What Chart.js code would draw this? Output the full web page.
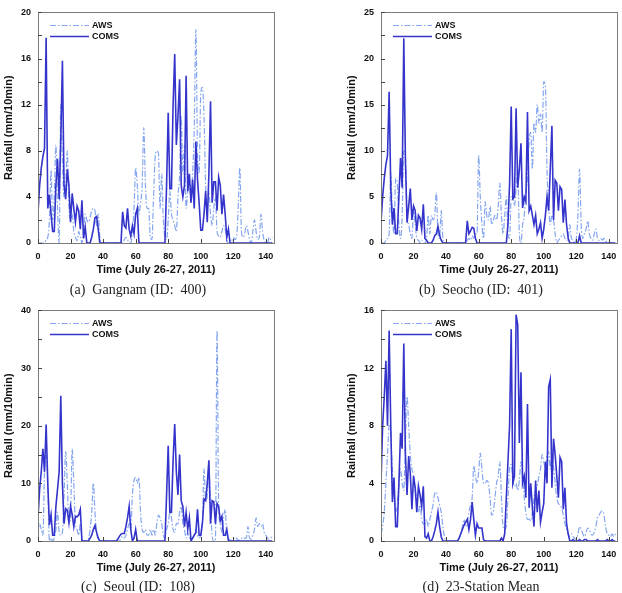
<!DOCTYPE html>
<html><head><meta charset="utf-8">
<script src="https://cdn.jsdelivr.net/npm/chart.js@4.4.1/dist/chart.umd.min.js"></script>
<style>
html,body{margin:0;padding:0;background:#fff;}
body{width:622px;height:593px;position:relative;overflow:hidden;}
.panel{position:absolute;width:300px;height:285px;}
.cap{position:absolute;font-family:"Liberation Serif","DejaVu Serif",serif;font-size:14px;line-height:16px;color:#222;white-space:pre;transform:translateX(-50%);}
</style></head><body>
<div class="panel" style="left:0px;top:0px"><canvas id="ca" width="300" height="285"></canvas></div>
<div class="panel" style="left:343px;top:0px"><canvas id="cb" width="300" height="285"></canvas></div>
<div class="panel" style="left:0px;top:298px"><canvas id="cc" width="300" height="285"></canvas></div>
<div class="panel" style="left:343px;top:298px"><canvas id="cd" width="300" height="285"></canvas></div>
<div class="cap" style="left:138px;top:282px">(a)  Gangnam (ID:  400)</div>
<div class="cap" style="left:481px;top:282px">(b)  Seocho (ID:  401)</div>
<div class="cap" style="left:138px;top:579px">(c)  Seoul (ID:  108)</div>
<div class="cap" style="left:481px;top:579px">(d)  23-Station Mean</div>
<script>
// ---- data (10-minute steps, July 26-27, 2011) ----
const times = Array.from({length:145}, (_, i) => i);
const xTicks = [0, 20, 40, 60, 80, 100, 120, 140];
const seriesNames = ['AWS', 'COMS'];
const xTitle = 'Time (July 26-27, 2011)';
const yTitle = 'Rainfall (mm/10min)';

const awsA = [
 0,0,0,0,0,0.3,0.5,2,6.3,2,
 4,8.5,3,0,12,7,4,5,8,3,
 2,2.5,1,0.5,0.2,1,0.5,0,1,2.5,
 2,1.8,2.2,2.8,3,2.8,1.5,2.5,0.5,0,
 0,0,0,0,0,0,0,0,0,0,
 0,0,0,0.3,0.5,0.3,0,0,1,3,
 6.5,5,2.5,3.5,5,10,5,3,3,0.5,
 0.3,4,7.5,8,7.8,3,6,2,0.5,0.3,
 2,4.5,2.5,2,1.5,1,4,6,11,6,
 8.5,3,4.5,5.5,3.5,6,10,18.5,8,6,
 13,13.5,11,5,3,4.5,2.5,1.5,3,4,
 1,0.6,0.5,1,1.5,1.2,0.3,0,0,0.2,
 0.5,0.3,0.5,3,6.5,1,0.5,0.8,1.5,1,
 0.3,0,1,2,1,0.3,0.5,2.5,1,0.2,
 0,0,0.5,0.3,0.5];
const comsA = [
 2.6,5,6.5,7.5,8.2,17.8,3,4.2,2.5,1,
 1,5,7.3,3.8,9,15.8,5,3.8,6.4,5,
 1.8,4.3,3,1.8,3.2,2.8,1.2,3.7,0.4,1.4,
 0,0,0,0.5,1.2,2.2,2.3,1.2,0,0,
 0,0,0,0,0,0,0,0,0,0,
 0,0,2.7,1.5,1.3,3,1.2,0.6,1.5,0.8,
 2.5,3,0,0,0,0,0,0,0,0,
 0,0,0,0,0,0,0,0,0,5,
 11.3,4.7,4.7,12,16.4,8.5,11,14.2,5,4,
 5,14.5,4.5,6,3.5,5.5,3,8.8,5.5,3.5,
 1.1,1.1,2.5,4.5,1.8,6,12.3,3.5,5.3,5.3,
 2.8,5.7,5,2.5,4.2,2.5,0.5,1.2,0,0,
 0,0,0,0,0,0,0,0,0,0,
 0,0,0,0,0,0,0,0,0,0,
 0,0,0,0,0];

const awsB = [
 0,0,0,0.3,0.5,1,7.5,3,1,7,
 6.5,2,0.5,3,10,9.5,3,2,1,0.5,
 3.5,2,0.5,0.3,0,0.3,0,0,0.5,3,
 1,3,2.5,3,5.5,1,0.5,3.5,0.5,0,
 0,0,0,0,0,0,0,0,0,0,
 0,0,0,0.3,0.5,0.3,0.8,0.5,1,1,
 9.5,5,2,0.5,4.5,3,2.5,4,2,2.5,
 3,2.5,4,6.5,3,1,3,5,1,0.5,
 5,5,4,6,8,1,0,2,3,5.5,
 7,11,12,8,13,12,15,13,14,12,
 17.5,17,8,4,2,3,2.5,1,0,0.3,
 0.5,0.8,1,0.5,0.3,0.5,2,0.5,0.3,0,
 0.5,3,8,2,0.5,1,1.5,2.4,1,0.5,
 0.3,1,1.5,0.5,0.3,0.5,0.3,0.5,0.3,0,
 0,0,0,0,0];
const comsB = [
 2.2,5,7,8.5,9.5,16.4,6,2,3.8,1,
 1,5,9.2,6,22.2,9,2.2,4,5.9,2.5,
 4,3.5,1.3,3,2.7,1.5,4.2,0.5,0.3,0,
 0,0,0.3,0.8,1,1.8,0.8,0.3,0,0,
 0,0,0,0,0,0,0,0,0,0,
 0,0,0,2.4,1,1.3,1.7,1.6,0.5,0,
 0,0,0,0,0,0,0,0,0,0,
 0,0,0,0,0,0,0,0,2,6.4,
 14.8,4.8,5,14.6,6,8,10.8,3.8,5,4.5,
 14.2,3.5,4,3,2,3,1,1.5,2.2,0.5,
 1.5,3,5,3.5,8,12.7,2.5,6.8,6.5,3.5,
 6.1,5.8,2.2,4.7,2,0.5,0,0,0,0,
 0,0,0.8,0,0,0,0,0,0,0,
 0,0,0,0,0,0,0,0,0,0,
 0,0,0,0,0];

const awsC = [
 1,3,2,1,12,15,10,0,0.5,0,
 0.5,2,5,1.5,1,1.5,8,15.5,10,3,
 4,16,10,3,2,1,3,0.5,0,0,
 0,0.3,2,5,10,5,1.5,0.5,0,0,
 0,0,0,0,0,0,0,0,0,0,
 0,0.5,0.8,0.5,1,2,3,2,8,10.5,
 11,10,11,5,2,1.5,2,1,1,2,
 1,2,1,3,4.5,4,3,1,0.5,2,
 3,5,4,2,1.5,3,3,5,6,3,
 2,0.5,1.5,0.5,0,0.5,1,2,1,0.5,
 1,3,12.5,7,8,13,6,1,0,0,
 36.5,6,3,1.5,4,5.5,1,0.5,0,0.3,
 0.5,0.3,0.5,0,0.3,0.5,0.3,0.5,0.5,2.5,
 0.5,0.3,1,2,4,2.5,3,2.5,3,1.5,
 1,0.5,0.3,0.5,1];
const comsC = [
 4,9,12,16,12,20.2,10,2.8,4.6,1,
 1,6,9,12,25.2,10,3,5.6,5.3,3.2,
 6,4.6,2.5,4.3,4.2,4.5,5.5,0,0,0,
 0,0,0.5,1,2,2.7,1.5,0.5,0,0,
 0,0,0,0,0,0,0,0,0,0.3,
 0.8,1.2,1.3,1.3,2.5,4,6,2,0,0.5,
 2,0,0,0,0,0,0,0,0,0,
 0,0,0,0,0,0,0,0,0,8,
 16.5,5,5,14,20.3,12,8,15,7,6,
 2.5,5,2,4,0,0.5,1,1.5,5.5,1,
 1,3,7.3,7,10,14,3,7,6.8,3,
 6.5,6,3.5,4.3,1,1,2,0,0,0,
 0,0,0,0,0,0,0,0,0,0,
 0,0,0,0,0,0,0,0,0,0,
 0,0,0,0,0];

const awsD = [
 0.5,1,2,4,6,8,7.5,5,3.5,2,
 2.5,4,5,4,3.5,7,10,8,6,5,
 4.5,3.5,3,2,2.5,1.5,1.2,1.2,1.5,1,
 1.5,2,2.5,3.3,3.4,3,2.5,2,1,0.3,
 0,0,0,0,0,0,0,0,0.2,0.5,
 1,1.5,1,1.2,2,2.5,3,5.2,4.5,4,
 4.8,6.1,5,4,4,4.2,4,3,1.8,2,
 3,4,4.5,5.5,3,1,0.8,1,3,5,
 5.3,4.2,3.8,4,3.5,4.2,5.5,4.5,3,2,
 1.5,1.5,1.4,2,3,3.6,3.8,4.5,5,6,
 5.5,5,6,6.2,5,6,5.2,4,3,2.6,
 2.5,2.3,1.8,1.2,0.8,0.5,0.3,0.5,0.3,0.2,
 0.1,0.5,1,0.8,0.5,0.3,0.6,0.9,0.8,0.5,
 0.4,0.6,1,1.6,1.8,2,2.1,1.8,1,0.5,
 0.4,0.3,0.5,0.3,0.5];
const comsD = [
 4,8,10,12.5,8,14.6,8,2.7,4.4,1,
 1,4,7.5,6.4,13.7,6,3.2,5.9,4.7,2.2,
 4.5,3.7,2,3.8,3.2,2.4,3.8,0.3,0.2,0.5,
 0,0,0.3,0.7,1.2,2,1,0.3,0,0,
 0,0,0,0,0,0,0,0,0.2,0.5,
 0.8,1.1,1.3,1.5,0.8,1.5,2.7,1.5,0.4,1.2,
 0.9,0.9,0.9,0.1,0,0,0,0,0,0,
 0,0,0,0,0.2,0,0.5,3,5.5,8,
 14.7,4,4.5,15.7,15,6.8,11.7,4,4.5,3,
 9.5,2.3,4,2.3,1,4.2,2,3.5,1.3,2,
 2.6,5.5,4,10.7,11.2,3.7,7.1,6,4.5,3,
 5.8,5.5,2.2,3.7,1.2,0.5,0,0,0.1,0,
 0,0,0.1,0,0,0.1,0.1,0,0,0,
 0,0,0,0.1,0,0,0,0,0,0.1,
 0,0,0.1,0,0];

const yMaxes = [20, 25, 40, 16];
const yMajorSteps = [4, 5, 10, 4];
const yMinorSteps = [2, 2.5, 5, 2];

// ---- styling ----
const AWS_COLOR = '#85a6ee';
const COMS_COLOR = '#3434cc';
const FRAME = '#7a7a7a';
const SANS = '"Liberation Sans", Arial, sans-serif';

const framePlugin = {
  id: 'frame',
  afterDatasetsDraw(chart, args, opts) {
    const {ctx, chartArea: a, scales} = chart;
    ctx.save();
    ctx.strokeStyle = FRAME;
    ctx.lineWidth = 1;
    ctx.strokeRect(Math.round(a.left) + 0.5, Math.round(a.top) + 0.5,
                   Math.round(a.right - a.left), Math.round(a.bottom - a.top));
    ctx.strokeStyle = '#444';
    ctx.beginPath();
    const ys = scales.y;
    for (let v = 0; v <= ys.max + 1e-9; v += opts.minor) {
      const py = Math.round(ys.getPixelForValue(v)) + 0.5;
      ctx.moveTo(a.left, py); ctx.lineTo(a.left + 4, py);
    }
    const xs = scales.x;
    xTicks.forEach(v => {
      const px = Math.round(xs.getPixelForValue(v)) + 0.5;
      ctx.moveTo(px, a.bottom); ctx.lineTo(px, a.bottom - 4);
    });
    ctx.stroke();
    ctx.restore();
  }
};

const legendPlugin = {
  id: 'insideLegend',
  afterDatasetsDraw(chart) {
    const {ctx, chartArea: a} = chart;
    chart.data.datasets.forEach((ds, i) => {
      const y = Math.round(a.top + 12.5 + i * 11.5) + 0.5;
      ctx.save();
      ctx.strokeStyle = ds.borderColor;
      ctx.lineWidth = ds.borderWidth;
      ctx.setLineDash(ds.borderDash || []);
      ctx.beginPath(); ctx.moveTo(a.left + 12, y); ctx.lineTo(a.left + 51, y); ctx.stroke();
      ctx.setLineDash([]);
      ctx.fillStyle = '#111';
      ctx.font = 'bold 9px ' + SANS;
      ctx.textBaseline = 'middle';
      ctx.fillText(ds.label, a.left + 54, y);
      ctx.restore();
    });
  }
};

function makeChart(id, aws, coms, idx) {
  const toPts = arr => times.map((t, i) => ({x: t, y: arr[i]}));
  new Chart(document.getElementById(id), {
    type: 'line',
    data: {
      datasets: [
        {label: seriesNames[0], data: toPts(aws), borderColor: AWS_COLOR, borderWidth: 1.2,
         borderDash: [6, 2, 1.5, 2], pointRadius: 0, cubicInterpolationMode: 'monotone', order: 1},
        {label: seriesNames[1], data: toPts(coms), borderColor: COMS_COLOR, borderWidth: 1.6,
         pointRadius: 0, tension: 0, order: 0}
      ]
    },
    options: {
      responsive: false,
      animation: false,
      layout: {padding: {left: 0, right: 26, top: 10, bottom: 0}},
      plugins: {legend: {display: false}, tooltip: {enabled: false},
                frame: {minor: yMinorSteps[idx]}},
      scales: {
        x: {
          type: 'linear', min: 0, max: 145,
          afterBuildTicks: s => { s.ticks = xTicks.map(v => ({value: v})); },
          afterFit: s => { s.height = 42; },
          grid: {display: true, drawOnChartArea: false, drawTicks: false},
          border: {display: false},
          ticks: {color: '#111', padding: 8, maxRotation: 0, autoSkip: false,
                  font: {family: SANS, size: 9, weight: 'bold'}},
          title: {display: true, text: xTitle, color: '#111',
                  font: {family: SANS, size: 11, weight: 'bold'}, padding: {top: 0, bottom: 8}}
        },
        y: {
          min: 0, max: yMaxes[idx],
          afterFit: s => { s.width = 38; },
          grid: {display: true, drawOnChartArea: false, drawTicks: false},
          border: {display: false},
          ticks: {stepSize: yMajorSteps[idx], color: '#111', padding: 7,
                  font: {family: SANS, size: 9, weight: 'bold'}},
          title: {display: true, text: yTitle, color: '#111',
                  font: {family: SANS, size: 11, weight: 'bold'}, padding: {top: 2, bottom: 0}}
        }
      }
    },
    plugins: [framePlugin, legendPlugin]
  });
}

makeChart('ca', awsA, comsA, 0);
makeChart('cb', awsB, comsB, 1);
makeChart('cc', awsC, comsC, 2);
makeChart('cd', awsD, comsD, 3);
</script>
</body></html>
